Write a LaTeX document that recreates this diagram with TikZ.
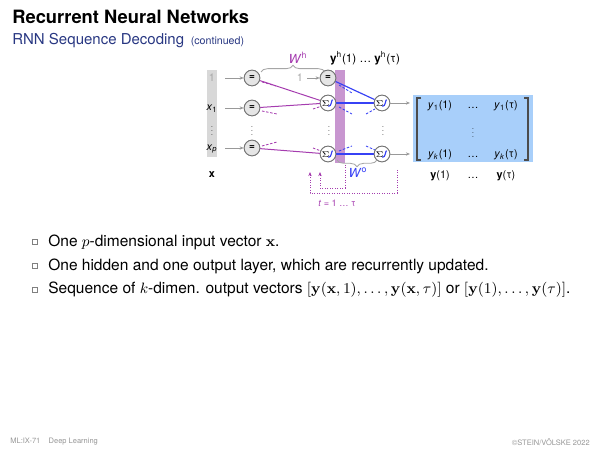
\documentclass[tikz,border=0pt]{standalone}
\usepackage[no-math]{fontspec}
\setmainfont{TeX Gyre Heros}
\usetikzlibrary{arrows.meta,decorations.pathreplacing}
\definecolor{subblue}{RGB}{40,55,130}
\definecolor{pur}{RGB}{165,60,175}
\definecolor{purbar}{RGB}{200,150,208}
\definecolor{nblue}{RGB}{55,65,245}
\definecolor{boxblue}{RGB}{168,207,250}
\definecolor{barg}{RGB}{216,216,216}
\definecolor{footg}{RGB}{150,150,150}
\newcommand{\smvdots}{\scalebox{0.6}{\vdots}}
\newcommand{\smmath}[1]{{\fontsize{8.6}{10}\selectfont$#1$}}
\begin{document}
\begin{tikzpicture}[x=0.6pt,y=-0.6pt,
  neu/.style={circle,draw=black!55,line width=0.5pt,minimum size=9.4pt,inner sep=0pt,fill=black!10,font=\fontsize{6}{6}\selectfont\bfseries},
  sneu/.style={circle,draw=black!55,line width=0.5pt,minimum size=9.4pt,inner sep=0pt,fill=white},
  garrow/.style={draw=black!40,line width=0.5pt,-{Stealth[length=2.5pt,width=2pt]}},
  pline/.style={draw=pur,line width=0.6pt},
  pstub/.style={draw=pur,line width=0.5pt,dash pattern=on 1.5pt off 1pt},
  bline/.style={draw=nblue,line width=0.7pt},
  bstub/.style={draw=nblue,line width=0.5pt,dash pattern=on 1.5pt off 1pt},
  fback/.style={draw=pur,line width=0.5pt,densely dotted,-{Stealth[length=2.5pt,width=2pt]}},
  lbl/.style={font=\fontsize{6.5}{7}\selectfont,inner sep=0pt},
  bul/.style={draw=black!50,line width=0.4pt,minimum size=3pt,inner sep=0pt},
  btext/.style={anchor=west,font=\fontsize{9.3}{11}\selectfont,inner sep=0pt},
  brc/.style={draw=black!35,line width=0.5pt,decorate,decoration={brace,amplitude=4pt}}
]
\useasboundingbox (0,0) rectangle (600,450);
% titles
\node[anchor=base west,inner sep=0pt,font=\fontsize{11}{12}\selectfont\bfseries] (title) at (12,24) {Recurrent Neural Networks};
\node[anchor=base west,inner sep=0pt,font=\fontsize{9}{10}\selectfont,text=subblue] (sub) at (12,45) {RNN Sequence Decoding\hspace{4pt}{\fontsize{6.4}{7}\selectfont (continued)}};
% input bar
\fill[barg] (207,70) rectangle (217,157);
\node[lbl,text=black!35] (l0) at (212,78) {1};
\node[lbl] (l1) at (212,109) {\textit{x}\textsubscript{1}};
\node[lbl] (ld) at (212,128) {\smvdots};
\node[lbl] (lp) at (212,149) {\textit{x}\textsubscript{\textit{p}}};
\node[lbl] (lx) at (212,175) {\textbf{x}};
% purple bar
\fill[purbar] (335,70) rectangle (345,163);
% neurons
\node[neu] (i0) at (252,78) {=};
\node[neu] (i1) at (252,108) {=};
\node[neu] (ip) at (252,148) {=};
\node[lbl] (id) at (252,128) {\smvdots};
\node[neu] (h0) at (328,78) {=};
\node[sneu] (h1) at (328,103) {};
\node[sneu] (hp) at (328,154) {};
\node[lbl] (hd) at (329,128) {\smvdots};
\node[sneu] (o1) at (382,103) {};
\node[sneu] (op) at (382,154) {};
\node[lbl] (od) at (383,128) {\smvdots};
% input arrows
\coordinate (s0) at (225,78); \coordinate (s1) at (225,108); \coordinate (sp) at (225,148);
\draw[garrow] (s0) -- (i0);
\draw[garrow] (s1) -- (i1);
\draw[garrow] (sp) -- (ip);
% bias input to hidden
\node[lbl,text=black!35] (one) at (300,78) {1};
\coordinate (onea) at (307,78);
\draw[garrow] (onea) -- (h0);
% purple connections
\draw[pline] (i0) -- (h1);
\draw[pline] (i1) -- (h1);
\draw[pline] (ip) -- (hp);
\coordinate (a1) at (262,82); \coordinate (a2) at (276,86);
\coordinate (b1) at (262,111); \coordinate (b2) at (277,114);
\coordinate (c1) at (262,146); \coordinate (c2) at (277,142);
\coordinate (d1) at (313,109); \coordinate (d2) at (322,106);
\coordinate (e1) at (313,148); \coordinate (e2) at (321,151);
\draw[pstub] (a1) -- (a2);
\draw[pstub] (b1) -- (b2);
\draw[pstub] (c1) -- (c2);
\draw[pstub] (d1) -- (d2);
\draw[pstub] (e1) -- (e2);
% blue connections
\draw[bline] (h0) -- (o1);
\draw[bline] (h1) -- (o1);
\draw[bline] (hp) -- (op);
\coordinate (f1) at (339,85); \coordinate (f2) at (352,93);
\coordinate (g1) at (339,107); \coordinate (g2) at (352,114);
\coordinate (k1) at (339,151); \coordinate (k2) at (352,146);
\coordinate (m1) at (366,114); \coordinate (m2) at (375,109);
\coordinate (n1) at (366,146); \coordinate (n2) at (375,150);
\draw[bstub] (f1) -- (f2);
\draw[bstub] (g1) -- (g2);
\draw[bstub] (k1) -- (k2);
\draw[bstub] (m1) -- (m2);
\draw[bstub] (n1) -- (n2);
% redraw neurons on top
\foreach \n in {h1,hp,o1,op}{
  \node[sneu] at (\n) {};
  \node[inner sep=0pt,font=\fontsize{4.5}{5}\selectfont] at ([shift={(-2.4,0.3)}]\n.center) {$\Sigma$};
  \draw[nblue,line width=0.7pt] ([shift={(0.4,3.4)}]\n.center) .. controls +(3.4,0) and +(-1.2,0) .. ([shift={(4.6,-3.4)}]\n.center);
}
\foreach \n in {i0,i1,ip,h0}{ \node[neu] at (\n) {=}; }
% output arrows
\coordinate (t1) at (410,103); \coordinate (tp) at (410,154);
\draw[garrow] (o1) -- (t1);
\draw[garrow] (op) -- (tp);
% braces and labels
\coordinate (br1) at (261,72); \coordinate (br2) at (325,72);
\draw[brc] (br1) -- (br2);
\node[lbl,font=\fontsize{7.5}{8}\selectfont,text=pur] (wh) at (298,58) {\textit{W}\textsuperscript{h}};
\node[lbl,font=\fontsize{7}{8}\selectfont] (yh) at (365,58) {\textbf{y}\textsuperscript{h}(1) \dots\ \textbf{y}\textsuperscript{h}(τ)};
\coordinate (bb1) at (377,160); \coordinate (bb2) at (337,160);
\draw[brc] (bb1) -- (bb2);
\node[lbl,font=\fontsize{7.5}{8}\selectfont,text=nblue] (wo) at (358,173) {\textit{W}\textsuperscript{o}};
% feedback
\coordinate (fa) at (397,170); \coordinate (fb) at (397,193); \coordinate (fc) at (310,193); \coordinate (fd) at (310,172);
\draw[fback] (fa) -- (fb) -- (fc) -- (fd);
\coordinate (ga) at (345,165); \coordinate (gb) at (345,188); \coordinate (gc) at (320,188); \coordinate (gd) at (320,172);
\draw[fback] (ga) -- (gb) -- (gc) -- (gd);
\node[lbl,font=\fontsize{5.5}{6}\selectfont,text=pur] (tl) at (337,203) {\textit{t} = 1 \dots\ τ};
% output matrix
\fill[boxblue] (413,95) rectangle (533,162);
\draw[black!70,line width=0.7pt] (421,98) -- (417,98) -- (417,160) -- (421,160);
\draw[black!70,line width=0.7pt] (524,98) -- (528,98) -- (528,160) -- (524,160);
\node[lbl] (m11) at (440,106) {\textit{y}\textsubscript{1}(1)};
\node[lbl] (m12) at (473,108) {\dots};
\node[lbl] (m13) at (506,106) {\textit{y}\textsubscript{1}(τ)};
\node[lbl] (m22) at (473,130) {\smvdots};
\node[lbl] (m31) at (440,155) {\textit{y}\textsubscript{\textit{k}}(1)};
\node[lbl] (m32) at (473,157) {\dots};
\node[lbl] (m33) at (506,155) {\textit{y}\textsubscript{\textit{k}}(τ)};
\node[lbl] (y1) at (440,176) {\textbf{y}(1)};
\node[lbl] (y2) at (473,178) {\dots};
\node[lbl] (y3) at (506,176) {\textbf{y}(τ)};
% bullets
\node[bul] (b1) at (35,242) {};
\node[bul] (b2) at (35,266) {};
\node[bul] (b3) at (35,290) {};
\node[btext] (t1x) at (48,242) {One \smmath{p}-dimensional input vector \smmath{\mathbf{x}}.};
\node[btext] (t2x) at (48,266) {One hidden and one output layer, which are recurrently updated.};
\node[btext] (t3x) at (48,290) {Sequence of \smmath{k}-dimen. output vectors \smmath{[\mathbf{y}(\mathbf{x},1),\ldots,\mathbf{y}(\mathbf{x},\tau)]} or \smmath{[\mathbf{y}(1),\ldots,\mathbf{y}(\tau)]}.};
% footer
\node[anchor=west,inner sep=0pt,font=\fontsize{4.5}{5}\selectfont,text=footg] (fl) at (10,442) {ML:IX-71\hspace{5pt}Deep Learning};
\node[anchor=east,inner sep=0pt,font=\fontsize{4.5}{5}\selectfont,text=footg] (fr) at (590,442) {©STEIN/VÖLSKE 2022};
\end{tikzpicture}
\end{document}
